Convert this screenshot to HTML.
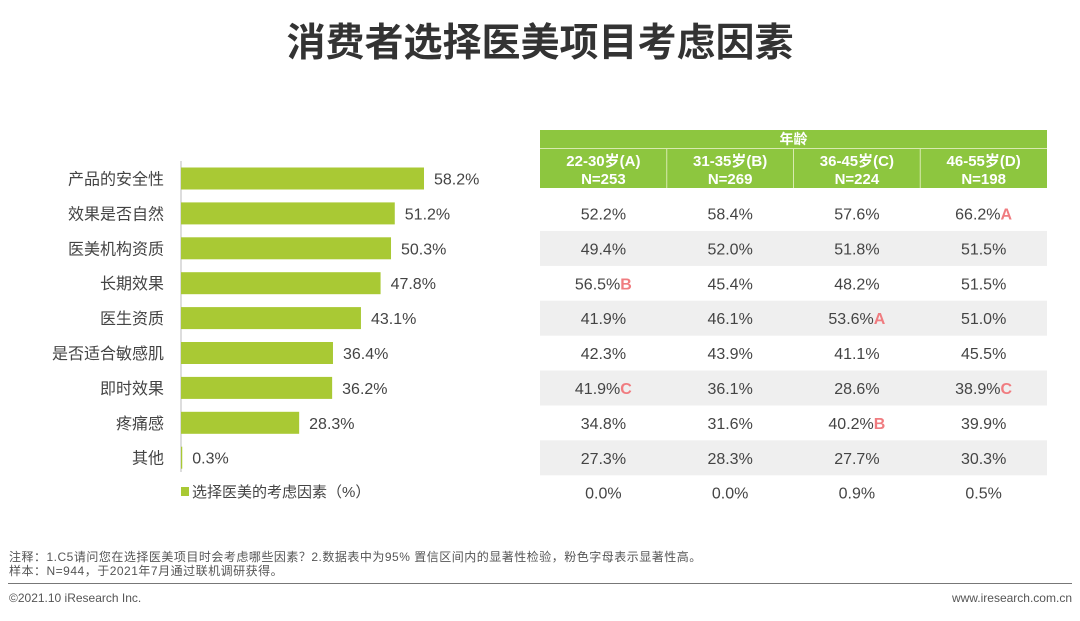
<!DOCTYPE html>
<html><head><meta charset="utf-8"><style>
body{margin:0;width:1080px;height:621px;background:#fff;font-family:"Liberation Sans","Noto Sans CJK SC",sans-serif;position:relative;overflow:hidden;color:#444}
.abs{position:absolute}
</style></head><body>
<div class="abs" style="left:0;width:1080px;top:18px;text-align:center;font-size:39px;line-height:52px;font-weight:bold;color:#333">消费者选择医美项目考虑因素</div>
<svg class="abs" style="left:0;top:0" width="1080" height="621" id="svg"></svg>
<div class="abs" style="left:9px;top:550px;font-size:12px;letter-spacing:0.5px;line-height:14px;color:#555">注释：1.C5请问您在选择医美项目时会考虑哪些因素？2.数据表中为95% 置信区间内的显著性检验，粉色字母表示显著性高。<br>样本：N=944，于2021年7月通过联机调研获得。</div>
<div class="abs" style="left:8px;top:583px;width:1064px;height:1px;background:#777"></div>
<div class="abs" style="left:9px;top:591px;font-size:12px;color:#555">©2021.10 iResearch Inc.</div>
<div class="abs" style="right:8px;top:591px;font-size:12px;color:#555">www.iresearch.com.cn</div>
<script>
const categories=["产品的安全性","效果是否自然","医美机构资质","长期效果","医生资质","是否适合敏感肌","即时效果","疼痛感","其他"];
const totals=[58.2,51.2,50.3,47.8,43.1,36.4,36.2,28.3,0.3];
const groups=["22-30岁(A)","31-35岁(B)","36-45岁(C)","46-55岁(D)"];
const groupN=["N=253","N=269","N=224","N=198"];
const colA=[52.2,49.4,56.5,41.9,42.3,41.9,34.8,27.3,0.0];
const colB=[58.4,52.0,45.4,46.1,43.9,36.1,31.6,28.3,0.0];
const colC=[57.6,51.8,48.2,53.6,41.1,28.6,40.2,27.7,0.9];
const colD=[66.2,51.5,51.5,51.0,45.5,38.9,39.9,30.3,0.5];
const sigA=["","","B","","","C","","",""];
const sigB=["","","","","","","","",""];
const sigC=["","","","A","","","B","",""];
const sigD=["A","","","","","C","","",""];
const NS="http://www.w3.org/2000/svg",svg=document.getElementById('svg');
function mk(t,a,txt){const e=document.createElementNS(NS,t);for(const k in a)e.setAttribute(k,a[k]);if(txt!=null)e.textContent=txt;svg.appendChild(e);return e;}
const x0=181,pxPer=243/58.2,y0=178.5,step=34.9;
const xs=v=>x0+v*pxPer, yc=i=>y0+i*step;
let ax=mk('line',{x1:x0,x2:x0,y1:161,y2:472,stroke:'#bbb','stroke-width':1});

categories.forEach((c,i)=>{
 let l=mk('text',{x:164,y:yc(i)+6,'text-anchor':'end','font-size':16,fill:'#444'},c);
 
 let r=mk('rect',{x:x0,y:yc(i)-11,width:Math.max(xs(totals[i])-x0,1.2),height:22,fill:'#a9c934'});
 
 let v=mk('text',{x:xs(totals[i])+10,y:yc(i)+6,'font-size':16,fill:'#444'},totals[i].toFixed(1)+'%');
 
});
let lg=mk('rect',{x:181,y:487,width:8,height:9,fill:'#a9c934'});

let lt=mk('text',{x:192,y:497,'font-size':15,fill:'#444'},'选择医美的考虑因素（%）');

const tx=540,tw=507,cw=tw/4;
let h1=mk('rect',{x:tx,y:130,width:tw,height:58,fill:'#8dc63f'});

mk('line',{x1:tx,x2:tx+tw,y1:148.5,y2:148.5,stroke:'#d8eab0','stroke-width':1});
let ht=mk('text',{x:tx+tw/2,y:144,'text-anchor':'middle','font-size':14,'font-weight':'bold',fill:'#fff'},'年龄');

groups.forEach((g,j)=>{
 if(j>0)mk('line',{x1:tx+j*cw,x2:tx+j*cw,y1:149,y2:188,stroke:'#d8eab0','stroke-width':1});
 let a=mk('text',{x:tx+j*cw+cw/2,y:166,'text-anchor':'middle','font-size':15,'font-weight':'bold',fill:'#fff'},g);
 
 let b=mk('text',{x:tx+j*cw+cw/2,y:184,'text-anchor':'middle','font-size':15,'font-weight':'bold',fill:'#fff'},groupN[j]);
 
});
const cols=[colA,colB,colC,colD],sigs=[sigA,sigB,sigC,sigD];
const ty0=213.5;
for(let i=0;i<colA.length;i++){
 const cy=ty0+i*step;
 if(i%2==1){let bg=mk('rect',{x:tx,y:cy-17.5,width:tw,height:35,fill:'#efefef'});
  }
 cols.forEach((col,j)=>{
  const t=mk('text',{x:tx+j*cw+cw/2,y:cy+6,'text-anchor':'middle','font-size':16,fill:'#444'});
  
  const s1=document.createElementNS(NS,'tspan');s1.textContent=col[i].toFixed(1)+'%';t.appendChild(s1);
  if(sigs[j][i]){const s2=document.createElementNS(NS,'tspan');s2.setAttribute('fill','#f07c80');s2.setAttribute('font-weight','bold');s2.textContent=sigs[j][i];t.appendChild(s2);}
 });
}
</script>
</body></html>
